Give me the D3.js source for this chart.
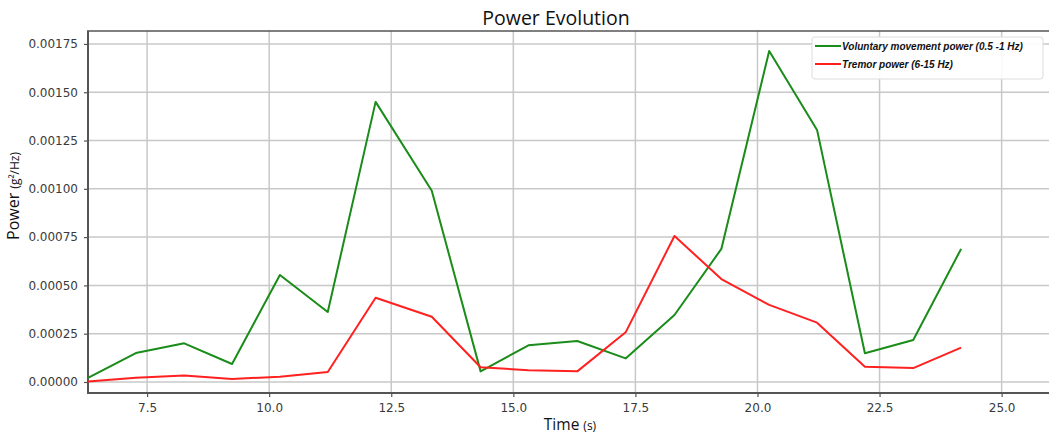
<!DOCTYPE html>
<html><head><meta charset="utf-8">
<script src="https://cdn.jsdelivr.net/npm/d3@7"></script>
<style>body{margin:0;background:#fff;} svg{display:block;}</style>
</head><body>
<script>
const times = [6.29, 7.27, 8.26, 9.24, 10.22, 11.20, 12.18, 13.33, 14.33, 15.31, 16.31, 17.30, 18.30, 19.26, 20.24, 21.22, 22.20, 23.19, 24.17];
const voluntary = [0.000021, 0.000150, 0.000200, 0.000093, 0.000554, 0.000362, 0.001450, 0.000990, 0.000055, 0.000190, 0.000212, 0.000122, 0.000347, 0.000689, 0.001714, 0.001305, 0.000149, 0.000217, 0.000689];
const tremor = [0.000002, 0.000022, 0.000033, 0.000016, 0.000027, 0.000052, 0.000436, 0.000338, 0.000076, 0.000061, 0.000055, 0.000257, 0.000756, 0.000533, 0.000399, 0.000307, 0.000079, 0.000072, 0.000178];
const xTicks = [7.5, 10.0, 12.5, 15.0, 17.5, 20.0, 22.5, 25.0];
const yTicks = [0, 0.00025, 0.0005, 0.00075, 0.001, 0.00125, 0.0015, 0.00175];
const seriesNames = ["Voluntary movement power (0.5 -1 Hz)", "Tremor power (6-15 Hz)"];
const seriesColors = ["#1a8c1a", "#ff2020"];

const W = 1049, H = 434;
const m = {left: 88, right: 0, top: 31, bottom: 41};
const svg = d3.select("body").append("svg").attr("width", W).attr("height", H);
const x = d3.scaleLinear().domain([6.29, 25.97]).range([m.left, W - m.right]);
const y = d3.scaleLinear().domain([-0.000057, 0.001817]).range([H - m.bottom, m.top]);

// grid
const g = svg.append("g");
g.selectAll(".vx").data(xTicks).join("line")
  .attr("x1", d => x(d)).attr("x2", d => x(d)).attr("y1", m.top).attr("y2", H - m.bottom)
  .attr("stroke", "#c8c8c8").attr("stroke-width", 1.5);
g.selectAll(".hy").data(yTicks).join("line")
  .attr("x1", m.left).attr("x2", W).attr("y1", d => y(d)).attr("y2", d => y(d))
  .attr("stroke", "#c8c8c8").attr("stroke-width", 1.5);

// axes
const xAxis = d3.axisBottom(x).tickValues(xTicks).tickFormat(d3.format(".1f")).tickSize(4).tickPadding(6);
const yAxis = d3.axisLeft(y).tickValues(yTicks).tickFormat(d3.format(".5f")).tickSize(4).tickPadding(6);
const ax = svg.append("g").attr("transform", `translate(0,${H - m.bottom})`).call(xAxis);
const ay = svg.append("g").attr("transform", `translate(${m.left},0)`).call(yAxis);
[ax, ay].forEach(a => {
  a.select(".domain").remove();
  a.selectAll(".tick line").attr("stroke", "#555").attr("stroke-width", 1.2);
  a.selectAll(".tick text").attr("font-family", "DejaVu Sans").attr("font-size", 12).attr("fill", "#3a3a3a");
});

// spines
svg.append("line").attr("x1", m.left).attr("x2", m.left).attr("y1", m.top).attr("y2", H - m.bottom).attr("stroke", "#555").attr("stroke-width", 2);
svg.append("line").attr("x1", m.left - 1).attr("x2", W).attr("y1", H - m.bottom).attr("y2", H - m.bottom).attr("stroke", "#555").attr("stroke-width", 2);
svg.append("line").attr("x1", m.left - 1).attr("x2", W).attr("y1", m.top).attr("y2", m.top).attr("stroke", "#555").attr("stroke-width", 1.5);

// lines
const line = d3.line().x((d, i) => x(times[i])).y(d => y(d));
[voluntary, tremor].forEach((s, k) => {
  svg.append("path").attr("d", line(s)).attr("fill", "none")
    .attr("stroke", seriesColors[k]).attr("stroke-width", 2).attr("stroke-linejoin", "round");
});

// title
svg.append("text").attr("x", 556).attr("y", 25).attr("text-anchor", "middle")
  .attr("font-family", "Open Sans, Liberation Sans").attr("font-size", 19.5).attr("fill", "#111").text("Power Evolution");

// x label
const xl = svg.append("text").attr("x", 570).attr("y", 430).attr("text-anchor", "middle")
  .attr("font-family", "Open Sans, Liberation Sans").attr("fill", "#111");
xl.append("tspan").attr("font-size", 15.5).text("Time ");
xl.append("tspan").attr("font-size", 12).text("(s)");

// y label
const yl = svg.append("text").attr("transform", "translate(19,196) rotate(-90)").attr("text-anchor", "middle")
  .attr("font-family", "Open Sans, Liberation Sans").attr("fill", "#111");
yl.append("tspan").attr("font-size", 16).text("Power ");
yl.append("tspan").attr("font-size", 12).text("(g²/Hz)");

// legend
const lg = svg.append("g");
lg.append("rect").attr("x", 812).attr("y", 37).attr("width", 231).attr("height", 42).attr("rx", 3)
  .attr("fill", "#fff").attr("fill-opacity", 0.9).attr("stroke", "#ddd");
seriesNames.forEach((n, k) => {
  const yy = 46 + k * 18;
  lg.append("line").attr("x1", 815).attr("x2", 841).attr("y1", yy).attr("y2", yy)
    .attr("stroke", seriesColors[k]).attr("stroke-width", 2);
  lg.append("text").attr("x", 842).attr("y", yy + 3.5).attr("font-family", "Liberation Sans")
    .attr("font-size", 10).attr("font-style", "italic").attr("font-weight", "bold").attr("fill", "#111").text(n);
});
</script>
</body></html>
